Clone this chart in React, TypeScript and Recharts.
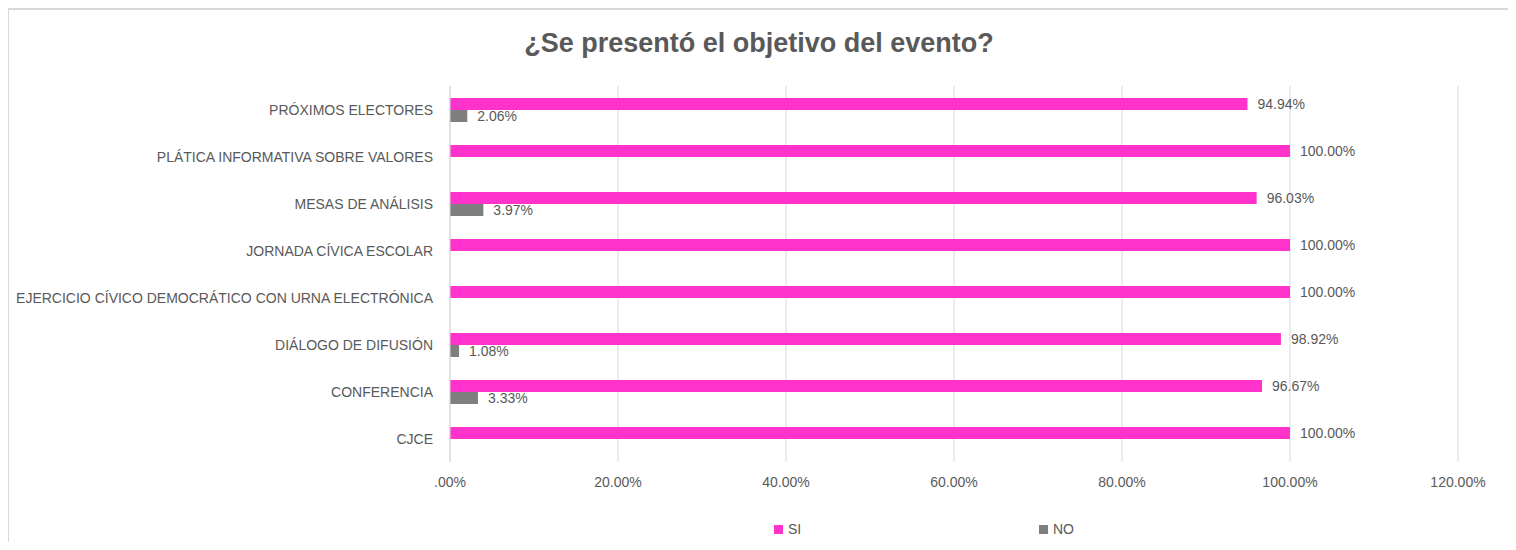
import React from 'react'
import { BarChart, Bar, XAxis, YAxis, CartesianGrid, Legend, LabelList } from 'recharts'

const categories = [
  'PRÓXIMOS ELECTORES',
  'PLÁTICA INFORMATIVA SOBRE VALORES',
  'MESAS DE ANÁLISIS',
  'JORNADA CÍVICA ESCOLAR',
  'EJERCICIO CÍVICO DEMOCRÁTICO CON URNA ELECTRÓNICA',
  'DIÁLOGO DE DIFUSIÓN',
  'CONFERENCIA',
  'CJCE',
]
const siValues = [94.94, 100, 96.03, 100, 100, 98.92, 96.67, 100]
const noValues = [2.06, 0, 3.97, 0, 0, 1.08, 3.33, 0]
const xTicks = [0, 20, 40, 60, 80, 100, 120]
const seriesNames = ['SI', 'NO']

const chartData = categories.map((name, i) => ({ name, si: siValues[i], no: noValues[i] }))

const PINK = '#FF33CC'
const GRAY = '#7F7F7F'
const TEXT = '#595959'
const FONT = '"Liberation Sans", Arial, sans-serif'
const seriesColors: Record<string, string> = { SI: PINK, NO: GRAY }

const fmtPct = (v: number) => (v === 0 ? '.00%' : v.toFixed(2) + '%')

// y axis labels on a single line, no wrapping
const CategoryTick = ({ x, y, payload }: any) => (
  <text x={x} y={y} textAnchor="end" dominantBaseline="central" fontSize={14} fill={TEXT} fontFamily={FONT}>
    {payload.value}
  </text>
)

const LegendContent = () => (
  <div style={{ display: 'flex', fontFamily: FONT, fontSize: 14, color: TEXT }}>
    {seriesNames.map((n) => (
      <div key={n} style={{ width: 265, display: 'flex', alignItems: 'center' }}>
        <span style={{ width: 9, height: 9, background: seriesColors[n], marginRight: 5, display: 'inline-block' }} />
        <span>{n}</span>
      </div>
    ))}
  </div>
)

const App = () => {
  return (
    <div style={{ position: 'relative', width: 1508, height: 534, fontFamily: FONT }}>
      <div
        style={{
          position: 'absolute',
          left: -1,
          top: 0,
          width: 1504,
          height: 534,
          borderTop: '2px solid #D9D9D9',
          borderLeft: '2px solid #D9D9D9',
          borderRight: '2px solid #D9D9D9',
          boxSizing: 'border-box',
        }}
      />
      <div
        style={{
          position: 'absolute',
          left: 0,
          top: 20,
          width: 1508,
          textAlign: 'center',
          fontSize: 27,
          fontWeight: 'bold',
          color: TEXT,
        }}
      >
        <span style={{ position: 'relative', left: -3 }}>¿Se presentó el objetivo del evento?</span>
      </div>
      <BarChart
        width={1508}
        height={534}
        data={chartData}
        layout="vertical"
        margin={{ top: 78, right: 58, bottom: 50, left: 0 }}
        barGap={0}
        style={{ position: 'absolute', left: 0, top: 0 }}
      >
        <CartesianGrid horizontal={false} stroke="#D9D9D9" />
        <XAxis
          type="number"
          domain={[0, 120]}
          ticks={xTicks}
          tickFormatter={fmtPct}
          axisLine={false}
          tickLine={false}
          tickSize={0}
          tickMargin={15}
          height={30}
          tick={{ fontSize: 14, fill: TEXT, fontFamily: FONT }}
        />
        <YAxis
          type="category"
          dataKey="name"
          width={442}
          axisLine={{ stroke: '#D9D9D9' }}
          tickLine={false}
          tickSize={0}
          tickMargin={17}
          interval={0}
          tick={<CategoryTick />}
        />
        <Legend
          layout="horizontal"
          verticalAlign="middle"
          align="center"
          wrapperStyle={{ top: 513, left: 766, width: 600 }}
          content={<LegendContent />}
        />
        <Bar dataKey="si" name="SI" fill={PINK} barSize={12} isAnimationActive={false}>
          <LabelList
            dataKey="si"
            position="right"
            offset={10}
            formatter={(v: any) => fmtPct(Number(v))}
            style={{ fontSize: 14, fill: TEXT, fontFamily: FONT }}
          />
        </Bar>
        <Bar dataKey="no" name="NO" fill={GRAY} barSize={12} isAnimationActive={false}>
          <LabelList
            dataKey="no"
            position="right"
            offset={10}
            formatter={(v: any) => (Number(v) ? fmtPct(Number(v)) : '')}
            style={{ fontSize: 14, fill: TEXT, fontFamily: FONT }}
          />
        </Bar>
      </BarChart>
    </div>
  )
}

export default App
